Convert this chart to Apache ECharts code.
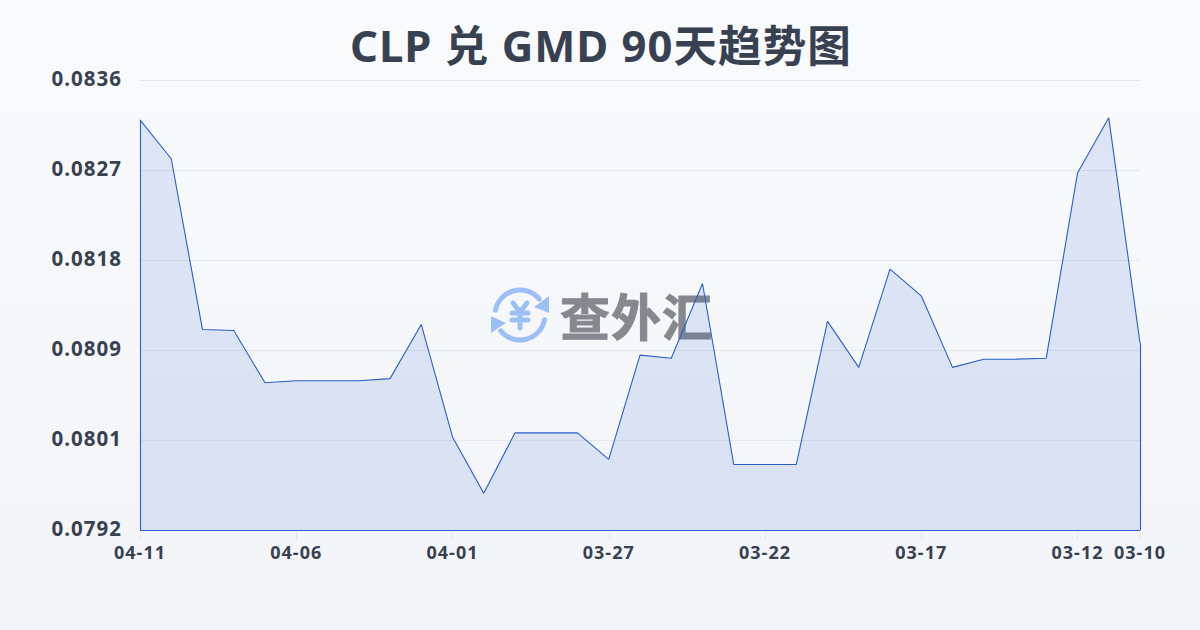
<!DOCTYPE html>
<html>
<head>
<meta charset="utf-8">
<style>
html, body { margin: 0; padding: 0; }
#main { width: 1200px; height: 630px; }
#main text { letter-spacing: 1px; }
</style>
<script src="https://cdn.jsdelivr.net/npm/echarts@6/dist/echarts.min.js"></script>
</head>
<body>
<div id="main"></div>
<script>
var titleText = 'CLP 兑 GMD 90天趋势图';
var dates = ['04-11','04-10','04-09','04-08','04-07','04-06','04-05','04-04','04-03','04-02','04-01',
	'03-31','03-30','03-29','03-28','03-27','03-26','03-25','03-24','03-23','03-22',
	'03-21','03-20','03-19','03-18','03-17','03-16','03-15','03-14','03-13','03-12','03-11','03-10'];
var rates = [0.08321,0.08283,0.08116,0.08115,0.08064,0.08066,0.08066,0.08066,0.08068,0.08121,0.08011,
	0.07956,0.08015,0.08015,0.08015,0.07989,0.08091,0.08088,0.08161,0.07984,0.07984,
	0.07984,0.08124,0.08079,0.08175,0.08149,0.08079,0.08087,0.08087,0.08088,0.08269,0.08323,0.08103];
var yTickLabels = ['0.0792','0.0801','0.0809','0.0818','0.0827','0.0836'];
var yMin = 0.0792, yMax = 0.0836, yStep = 0.00088;

var fontName = '"Noto Sans", "Noto Sans CJK SC", sans-serif';
var textColor = '#374151';
var lineColor = '#2a5fc8';
var logoBlue = '#9dbff8';
var lastIndex = rates.length - 1;

function showDate(i) {
	return i === lastIndex || (i % 5 === 0 && i <= 30);
}

// svg 渲染，字距走上面的 css
var chart = echarts.init(document.getElementById('main'), null, { renderer: 'svg' });

var logoLine = { stroke: logoBlue, lineWidth: 5, fill: null, lineCap: 'round' };

var option = {
	animation: false,
	backgroundColor: new echarts.graphic.LinearGradient(0, 0, 0, 1, [
		{ offset: 0, color: '#f8fafc' },
		{ offset: 1, color: '#f2f4f7' }
	]),
	title: {
		text: titleText,
		left: 345,
		top: 18,
		textStyle: { color: textColor, fontSize: 43.6, fontWeight: 'bold', fontFamily: fontName }
	},
	grid: { left: 140, right: 60, top: 80, bottom: 100 },
	xAxis: {
		type: 'category',
		boundaryGap: false,
		data: dates,
		axisLine: { show: false },
		axisTick: {
			show: true,
			length: 10,
			interval: function (i) { return showDate(i); },
			lineStyle: { color: '#e5e7eb' }
		},
		axisLabel: {
			interval: function (i) { return showDate(i); },
			color: textColor,
			fontSize: 18,
			fontWeight: 'bold',
			fontFamily: fontName,
			margin: 13,
			hideOverlap: false,
			showMinLabel: true,
			showMaxLabel: true
		},
		splitLine: { show: false }
	},
	yAxis: {
		type: 'value',
		min: yMin,
		max: yMax,
		interval: yStep,
		axisLine: { show: false },
		axisTick: { show: false },
		axisLabel: {
			color: textColor,
			fontSize: 20.5,
			fontWeight: 'bold',
			fontFamily: fontName,
			margin: 18,
			verticalAlign: 'bottom',
			lineHeight: 4,
			formatter: function (v) {
				return yTickLabels[Math.round((v - yMin) / yStep)];
			}
		},
		splitLine: { show: true, lineStyle: { color: '#e5e7eb', width: 1 } }
	},
	graphic: [
		// 水印
		{
			type: 'group',
			z: 0,
			silent: true,
			children: [
				{ type: 'arc', shape: { cx: 520, cy: 315, r: 25, startAngle: Math.PI * 1.06, endAngle: Math.PI * 1.78 }, style: logoLine },
				{ type: 'arc', shape: { cx: 520, cy: 315, r: 25, startAngle: Math.PI * 0.06, endAngle: Math.PI * 0.78 }, style: logoLine },
				{ type: 'polygon', shape: { points: [[549, 296], [549, 313], [534, 307]] }, style: { fill: logoBlue } },
				{ type: 'polygon', shape: { points: [[491, 316], [491, 333], [506, 323]] }, style: { fill: logoBlue } },
				{ type: 'polyline', shape: { points: [[513, 303], [520, 312], [527, 303]] }, style: logoLine },
				{ type: 'line', shape: { x1: 512, y1: 313, x2: 528, y2: 313 }, style: logoLine },
				{ type: 'line', shape: { x1: 512, y1: 320, x2: 528, y2: 320 }, style: logoLine },
				{ type: 'line', shape: { x1: 520, y1: 312, x2: 520, y2: 328 }, style: logoLine },
				{ type: 'text', x: 560, y: 314, style: { text: '查外汇', fill: '#85898f', stroke: '#85898f', lineWidth: 1, font: 'bold 50px "Noto Sans CJK SC"', align: 'left', verticalAlign: 'middle' } }
			]
		}
	],
	series: [{
		type: 'line',
		data: rates,
		symbol: 'none',
		z: 3,
		lineStyle: { color: lineColor, width: 1.1 },
		areaStyle: { color: 'rgba(37,88,215,0.175)', origin: 'start' },
		// 封闭轮廓：左、下、右三条边
		markLine: {
			silent: true,
			symbol: 'none',
			label: { show: false },
			lineStyle: { color: lineColor, width: 1.1, type: 'solid' },
			data: [
				[{ coord: [0, rates[0]] }, { coord: [0, yMin] }],
				[{ coord: [0, yMin] }, { coord: [lastIndex, yMin] }],
				[{ coord: [lastIndex, yMin] }, { coord: [lastIndex, rates[lastIndex]] }]
			]
		}
	}]
};

chart.setOption(option);
</script>
</body>
</html>
